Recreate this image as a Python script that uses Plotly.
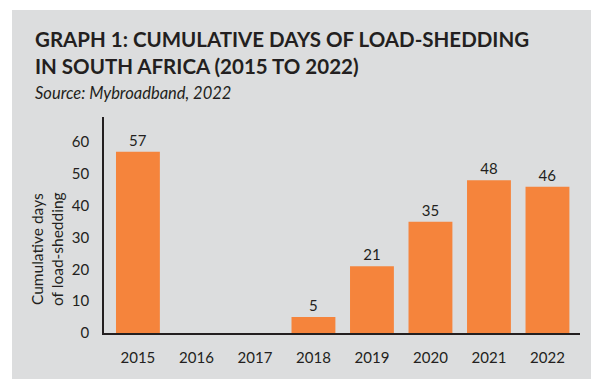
import plotly.graph_objects as go

years = ["2015", "2016", "2017", "2018", "2019", "2020", "2021", "2022"]
days = [57, None, None, 5, 21, 35, 48, 46]
labels = ["57", "", "", "5", "21", "35", "48", "46"]
y_ticks = [0, 10, 20, 30, 40, 50, 60]

W, H = 607, 390
L, R, T, B = 104, 27, 117, 57
pw, ph = W - L - R, H - T - B

def px(x):
    return (x - L) / pw

def py(y):
    return (H - B - y) / ph

dark = "#231F20"
orange = "#F5843C"
font_fam = "Lato, 'Open Sans', sans-serif"

fig = go.Figure(go.Bar(
    x=years, y=days, text=labels, textposition="outside",
    textfont=dict(size=15, color=dark, family=font_fam),
    marker=dict(color=orange, line=dict(width=0)),
    cliponaxis=False,
))

fig.update_layout(
    width=W, height=H,
    margin=dict(l=L, r=R, t=T, b=B),
    paper_bgcolor="white", plot_bgcolor="rgba(0,0,0,0)",
    bargap=0.25, showlegend=False,
    font=dict(family=font_fam, color=dark, size=14),
    xaxis=dict(type="category", range=[-0.58, 7.556], showgrid=False, zeroline=False,
               showline=True, linecolor=dark, linewidth=2, ticks="",
               ticklabelstandoff=10, tickfont=dict(size=15, color=dark)),
    yaxis=dict(range=[0, 67.9], tickvals=y_ticks, showgrid=False, zeroline=False,
               showline=True, linecolor=dark, linewidth=1.5, ticks="",
               ticklabelstandoff=10, tickfont=dict(size=15, color=dark)),
    shapes=[dict(type="rect", xref="paper", yref="paper",
                 x0=px(12), x1=px(591), y0=py(379), y1=py(10),
                 fillcolor="#DCDDDE", line=dict(width=0), layer="below")],
    annotations=[
        dict(text="<b>GRAPH 1: CUMULATIVE DAYS OF LOAD-SHEDDING<br>IN SOUTH AFRICA (2015 TO 2022)</b>",
             xref="paper", yref="paper", x=px(33), y=py(25), xanchor="left", yanchor="top",
             align="left", showarrow=False, font=dict(size=20.5, color=dark, family=font_fam)),
        dict(text="<i>Source: Mybroadband, 2022</i>",
             xref="paper", yref="paper", x=px(33), y=py(93), xanchor="left", yanchor="middle",
             align="left", showarrow=False, font=dict(size=16.5, color=dark, family=font_fam)),
        dict(text="Cumulative days<br>of load-shedding", textangle=-90,
             xref="paper", yref="paper", x=px(47), y=py(249), xanchor="center", yanchor="middle",
             showarrow=False, font=dict(size=15.5, color=dark, family=font_fam)),
    ],
)

fig.write_html("out.html", config={"displayModeBar": False},
               post_script="document.body.style.margin='0';")
